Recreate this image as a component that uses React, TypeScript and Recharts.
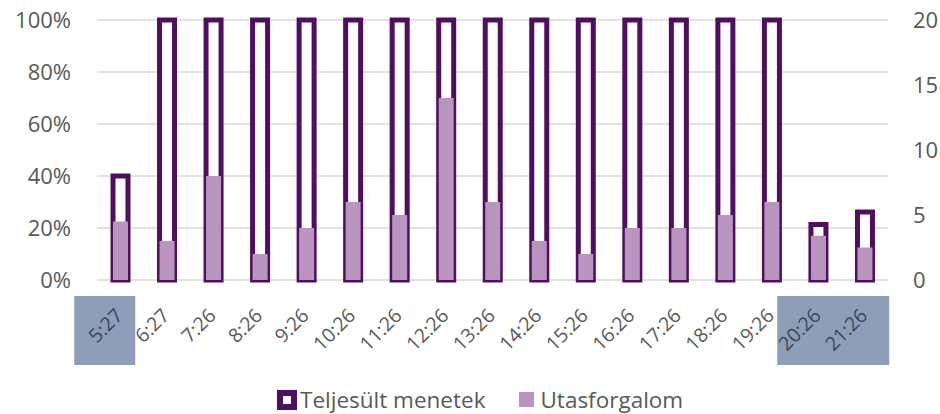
import React from 'react';
import { BarChart, Bar, XAxis, YAxis, CartesianGrid, Legend } from 'recharts';

const categories = ['5:27', '6:27', '7:26', '8:26', '9:26', '10:26', '11:26', '12:26', '13:26', '14:26', '15:26', '16:26', '17:26', '18:26', '19:26', '20:26', '21:26'];
const teljesult = [40, 100, 100, 100, 100, 100, 100, 100, 100, 100, 100, 100, 100, 100, 100, 21.3, 26.2];
const utasforgalom = [4.5, 3, 8, 2, 4, 6, 5, 14, 6, 3, 2, 4, 4, 5, 6, 3.4, 2.5];
const leftTicks = [0, 20, 40, 60, 80, 100];
const rightTicks = [0, 5, 10, 15, 20];
const highlighted: Record<string, [number, number]> = { '5:27': [-46, 61], '20:26': [-41, 112] };

const data = categories.map((c, i) => ({ name: c, teljesult: teljesult[i], utas: utasforgalom[i] }));

const DARK = '#500E60';
const LIGHT = '#B894BE';
const TEXT = '#595959';
const FONT = '"Open Sans", sans-serif';

function XTick(props: any) {
  const { x, y, payload } = props;
  const v = payload.value as string;
  const hl = highlighted[v];
  return (
    <g>
      {hl && <rect x={x + hl[0]} y={y + 16} width={hl[1]} height={69} fill="#8E9DB8" />}
      <text
        x={x - 1}
        y={y + 32}
        dy="0.35em"
        textAnchor="end"
        transform={`rotate(-45, ${x - 1}, ${y + 32})`}
        fontFamily={FONT}
        fontSize={19.5}
        fill={v === '5:27' || v === '20:26' || v === '21:26' ? '#3B4659' : TEXT}
      >
        {v}
      </text>
    </g>
  );
}

function LegendContent() {
  return (
    <div style={{ height: 44, boxSizing: 'border-box', paddingTop: 14, paddingLeft: 277, display: 'flex', alignItems: 'center', fontFamily: FONT, fontSize: 22.5, color: TEXT, lineHeight: 'normal' }}>
      <svg width={20} height={20} style={{ marginTop: 2 }}>
        <rect x={3} y={3} width={14} height={14} fill="#fff" stroke={DARK} strokeWidth={6} />
      </svg>
      <span style={{ marginLeft: 3 }}>Teljesült menetek</span>
      <svg width={15} height={15} style={{ marginLeft: 34, marginTop: 1 }}>
        <rect x={0} y={0} width={15} height={15} fill={LIGHT} />
      </svg>
      <span style={{ marginLeft: 6 }}>Utasforgalom</span>
    </div>
  );
}

export default function App() {
  return (
    <div style={{ position: 'absolute', left: 0, top: 0 }}>
      <BarChart width={940} height={414} data={data} margin={{ top: 20, right: 0, bottom: 0, left: 0 }} barGap={-15}>
        <CartesianGrid yAxisId="left" vertical={false} stroke="#D9D9D9" strokeWidth={1.3} />
        <XAxis dataKey="name" axisLine={false} tickLine={false} tickSize={0} tickMargin={0} height={90} interval={0} tick={<XTick />} />
        <YAxis
          yAxisId="left"
          orientation="left"
          width={97}
          domain={[0, 100]}
          ticks={leftTicks}
          tickFormatter={(v: number) => `${v}%`}
          axisLine={false}
          tickLine={false}
          tickSize={0}
          tickMargin={26}
          tick={{ fill: TEXT, fontSize: 22, fontFamily: FONT }}
        />
        <YAxis
          yAxisId="right"
          orientation="right"
          width={52}
          domain={[0, 20]}
          ticks={rightTicks}
          axisLine={false}
          tickLine={false}
          tickSize={0}
          tickMargin={25}
          tick={{ fill: TEXT, fontSize: 22, fontFamily: FONT, textAnchor: 'start' }}
        />
        <Legend verticalAlign="bottom" content={<LegendContent />} wrapperStyle={{ left: 0, width: 940 }} />
        <Bar yAxisId="left" dataKey="teljesult" name="Teljesült menetek" barSize={15} fill="#FFFFFF" stroke={DARK} strokeWidth={5} isAnimationActive={false} />
        <Bar yAxisId="right" dataKey="utas" name="Utasforgalom" barSize={15} fill={LIGHT} isAnimationActive={false} />
      </BarChart>
    </div>
  );
}
